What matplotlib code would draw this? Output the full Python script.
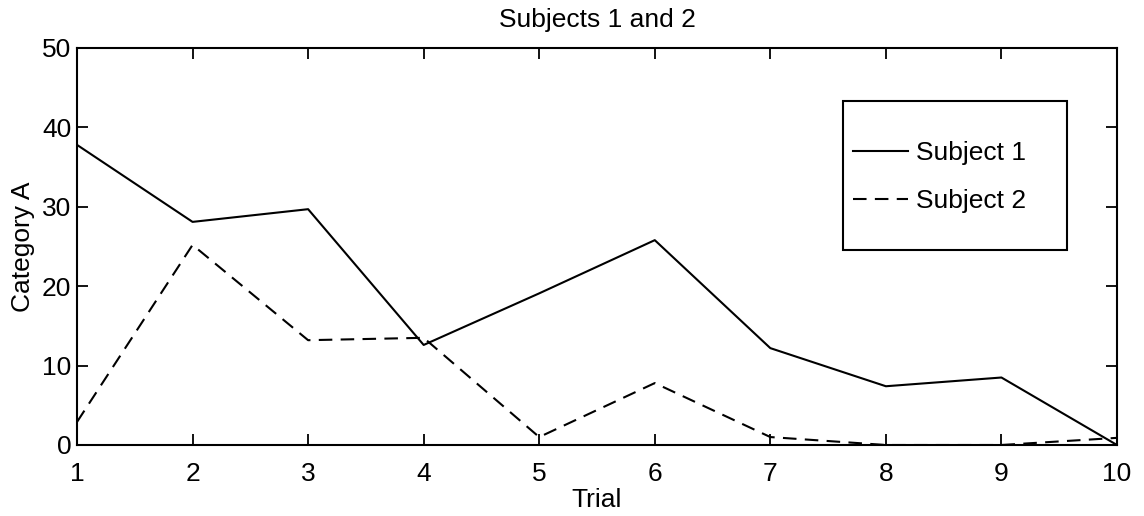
import numpy as np
import matplotlib.pyplot as plt
from matplotlib.patches import Rectangle

plt.rcParams['font.family'] = ['Liberation Sans', 'DejaVu Sans']

trials = [1, 2, 3, 4, 5, 6, 7, 8, 9, 10]
subject1 = [37.8, 28.1, 29.7, 12.6, 19.1, 25.8, 12.2, 7.4, 8.5, 0.0]
subject2 = [2.9, 25.2, 13.2, 13.5, 1.0, 7.8, 1.0, 0.0, 0.0, 0.9]

W, H = 1144, 516
fs = 19

fig = plt.figure(figsize=(W / 100, H / 100), dpi=100)
# axes box in pixels: left 77, right 1117, top 48, bottom 445
ax = fig.add_axes([77 / W, 1 - 445 / H, (1117 - 77) / W, (445 - 48) / H])

ax.plot(trials, subject1, 'k-', lw=1.5, label='Subject 1')
ax.plot(trials, subject2, 'k--', lw=1.5, dashes=(6.5, 4), label='Subject 2')

ax.set_xlim(1, 10)
ax.set_ylim(0, 50)
ax.set_xticks(trials)
ax.set_yticks([0, 10, 20, 30, 40, 50])
ax.tick_params(direction='in', top=True, right=True, length=8, width=1.3,
               labelsize=fs)
ax.tick_params(axis='x', pad=12)
ax.tick_params(axis='y', pad=4)
for s in ax.spines.values():
    s.set_linewidth(1.5)

ax.set_title('Subjects 1 and 2', fontsize=fs, pad=15)
ax.set_xlabel('Trial', fontsize=fs, labelpad=2)
ax.set_ylabel('Category A', fontsize=fs, labelpad=5)

# legend box (drawn separately, text block sits off-centre inside it)
box = Rectangle((843 / W, 1 - 250 / H), 224 / W, 149 / H, transform=fig.transFigure,
                facecolor='white', edgecolor='black', lw=1.5, zorder=4, clip_on=False)
ax.add_patch(box)

leg = ax.legend(loc='center left', bbox_to_anchor=(853 / W, 1 - 177 / H),
                bbox_transform=fig.transFigure, fontsize=fs, frameon=False,
                handlelength=2.1, handletextpad=0.3, borderpad=0, labelspacing=0.9,
                borderaxespad=0)
leg.set_zorder(6)

fig.savefig('out.png', dpi=100)
